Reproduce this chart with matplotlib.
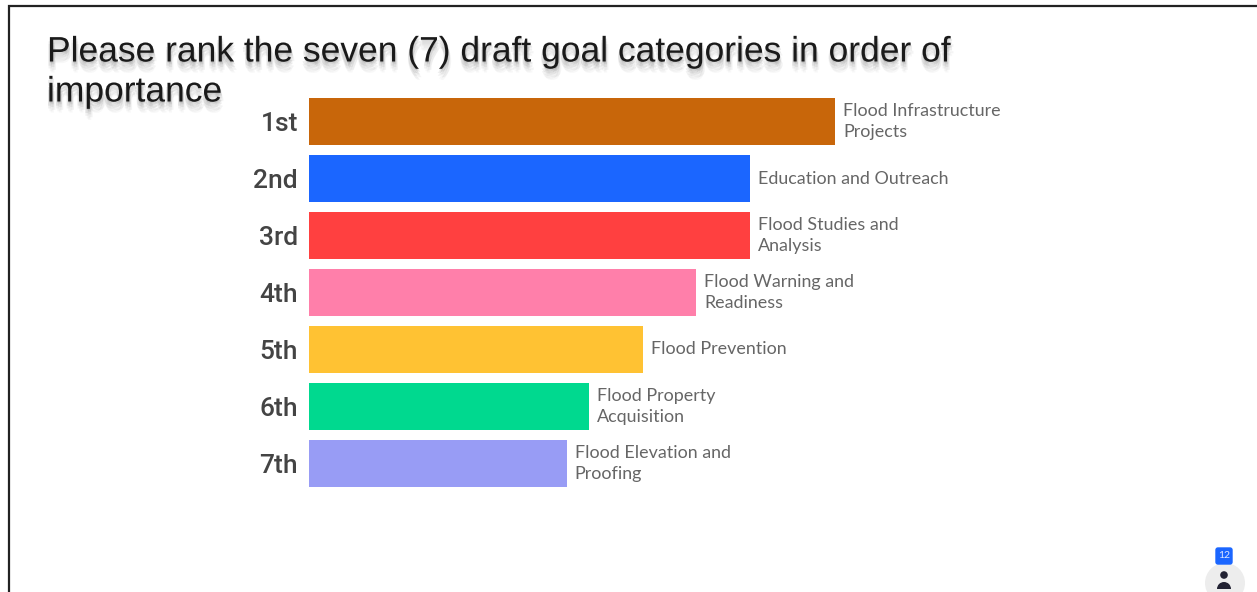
import matplotlib
matplotlib.use("Agg")
import matplotlib.pyplot as plt
import matplotlib.patheffects as pe
from matplotlib.patches import Circle, FancyBboxPatch, Wedge

W, H = 1257, 592

# bar lengths, longest = 100
ranks = ["1st", "2nd", "3rd", "4th", "5th", "6th", "7th"]
goals = ["Flood Infrastructure\nProjects", "Education and Outreach", "Flood Studies and\nAnalysis",
         "Flood Warning and\nReadiness", "Flood Prevention", "Flood Property\nAcquisition",
         "Flood Elevation and\nProofing"]
scores = [100, 83.8, 83.8, 73.6, 63.5, 53.2, 49.0]
colors = ["#C8660A", "#1B66FF", "#FF4040", "#FF7FAA", "#FFC233", "#00D98F", "#989CF5"]
title_lines = ["Please rank the seven (7) draft goal categories in order of", "importance"]

fig = plt.figure(figsize=(W/100, H/100), dpi=100, facecolor="white")

# main chart, placed so that the bars land on the same pixels
ax = fig.add_axes([309/W, 1-492/H, 526/W, 399/H])
ax.barh(range(len(ranks)), scores, height=0.825, color=colors)
ax.set_xlim(0, 100)
ax.set_ylim(6.5, -0.5)
ax.set_xticks([])
ax.set_yticks(range(len(ranks)))
ax.set_yticklabels(ranks, fontsize=19, family="Roboto", fontweight="medium", color="#444444")
ax.tick_params(axis="y", length=0, pad=8)
for s in ax.spines.values():
    s.set_visible(False)
for i, (v, g) in enumerate(zip(scores, goals)):
    ax.annotate(g, (v, i), xytext=(5.8, 0), textcoords="offset points", va="center", ha="left",
                fontsize=12.9, family="Lato", color="#666666", linespacing=1.4)

# overlay in pixel coords for frame, title and the little icon
ov = fig.add_axes([0, 0, 1, 1], facecolor="none")
ov.set_xlim(0, W)
ov.set_ylim(H, 0)
ov.axis("off")
ov.plot([9, 9, W], [H, 6, 6], color="#222222", lw=1.6, solid_joinstyle="miter")

# soft shadow behind the title
shadow = []
for dx, dy, a in [(0, -1, 0.10), (1, -2, 0.09), (-1, -3, 0.08), (1, -4, 0.07), (-1, -5, 0.06),
                  (2, -6, 0.05), (0, -7, 0.04), (1, -8, 0.03)]:
    shadow.append(pe.SimplePatchShadow(offset=(dx, dy), shadow_rgbFace="#333333", alpha=a))
shadow.append(pe.Normal())
for y, line in zip([52, 92], title_lines):
    ov.text(47, y, line, fontsize=25.5, family="Liberation Sans", color="#1A1A1A",
            va="center", ha="left", path_effects=shadow)

ov.add_patch(Circle((1225, 583), 20, color="#EDEDED", lw=0))
ov.add_patch(FancyBboxPatch((1216, 548), 16, 16, boxstyle="round,pad=0,rounding_size=2",
                            fc="#1B66FF", ec="#1B66FF", lw=1))
ov.text(1224, 556, "12", fontsize=7.5, color="#DDE6FF", ha="center", va="center", family="Lato")
ov.add_patch(Circle((1224, 575), 3.8, color="#222233", lw=0))
ov.add_patch(Wedge((1224, 589), 7, 180, 360, color="#222233", lw=0))

fig.savefig("out.png", dpi=100)
